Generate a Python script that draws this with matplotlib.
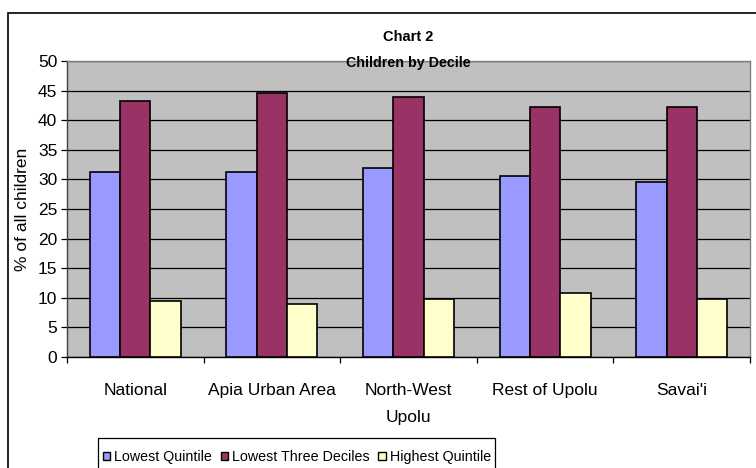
import numpy as np
import matplotlib
matplotlib.use("Agg")
import matplotlib.pyplot as plt
from matplotlib.patches import Rectangle, Patch
from matplotlib.ticker import FixedLocator, NullFormatter

plt.rcParams['font.family'] = ['Liberation Sans', 'DejaVu Sans']

# Share of children in each decile group, by region
regions = ["National", "Apia Urban Area", "North-West\nUpolu", "Rest of Upolu", "Savai'i"]
lowest_quintile = [31.3, 31.3, 32.0, 30.6, 29.5]
lowest_three_deciles = [43.2, 44.6, 44.0, 42.3, 42.3]
highest_quintile = [9.4, 9.0, 9.7, 10.8, 9.7]
series_names = ["Lowest Quintile", "Lowest Three Deciles", "Highest Quintile"]
series_colors = ["#9999FF", "#993366", "#FFFFCC"]
y_ticks = list(range(0, 51, 5))

fig = plt.figure(figsize=(7.56, 4.68), dpi=100)
W, H = 756, 468

# outer chart border
fig.patches.append(Rectangle((8 / W, -0.1), 1.2, 1 - 13 / H + 0.1,
                             transform=fig.transFigure, fill=False,
                             edgecolor="black", linewidth=1.2, zorder=0))

ax = fig.add_axes([67 / W, 1 - 356.7 / H, (750 - 67) / W, (356.7 - 61.3) / H])
ax.set_facecolor("#C0C0C0")

x = np.arange(len(regions))
bw = 0.222
series = [lowest_quintile, lowest_three_deciles, highest_quintile]
for i, (vals, col, name) in enumerate(zip(series, series_colors, series_names)):
    ax.bar(x + (i - 1) * bw, vals, width=bw, color=col, edgecolor="black",
           linewidth=1.2, label=name, zorder=3)

ax.set_xlim(-0.5, len(regions) - 0.5)
ax.set_ylim(0, 50)
ax.set_yticks(y_ticks)
ax.yaxis.grid(True, color="black", linewidth=0.9, zorder=1)
ax.set_axisbelow(True)

ax.set_xticks(x)
ax.set_xticklabels(regions, fontsize=12.5, linespacing=2.0)
ax.xaxis.set_minor_locator(FixedLocator(np.arange(-0.5, len(regions), 1.0)))
ax.xaxis.set_minor_formatter(NullFormatter())
ax.tick_params(axis="x", which="major", length=0, pad=19)
ax.tick_params(axis="x", which="minor", length=4, width=0.9, color="black", direction="out")
ax.tick_params(axis="y", length=4, width=0.9, pad=3, labelsize=12.5, direction="out")

for side in ["top", "right"]:
    ax.spines[side].set_color("#808080")
    ax.spines[side].set_linewidth(1.0)
ax.spines["left"].set_color("#404040")
ax.spines["bottom"].set_color("black")
ax.spines["left"].set_linewidth(1.0)
ax.spines["bottom"].set_linewidth(1.0)

ax.set_ylabel("% of all children", fontsize=12.5)
ax.yaxis.set_label_coords(-(67 - 30) / (750 - 67), 0.5)

fig.text(408 / W, 1 - 37 / H, "Chart 2", ha="center", va="center",
         fontsize=10.5, fontweight="bold")
fig.text(408 / W, 1 - 63 / H, "Children by Decile", ha="center", va="center",
         fontsize=10.3, fontweight="bold", zorder=5)

# legend frame runs off the bottom edge of the chart
fig.patches.append(Rectangle((98 / W, -0.1), (495 - 98) / W, (468 - 438) / H + 0.1,
                             transform=fig.transFigure, facecolor="white",
                             edgecolor="black", linewidth=0.9, zorder=1))
handles = [Patch(facecolor=c, edgecolor="black", linewidth=1.0) for c in series_colors]
leg = fig.legend(handles, series_names, loc="center left",
                 bbox_to_anchor=(100 / W, 1 - 457 / H), ncol=3, fontsize=10.3,
                 frameon=False, handlelength=0.5, handleheight=0.5,
                 handletextpad=0.3, columnspacing=0.6, borderpad=0.2,
                 borderaxespad=0)

fig.savefig("out.png", dpi=100)
